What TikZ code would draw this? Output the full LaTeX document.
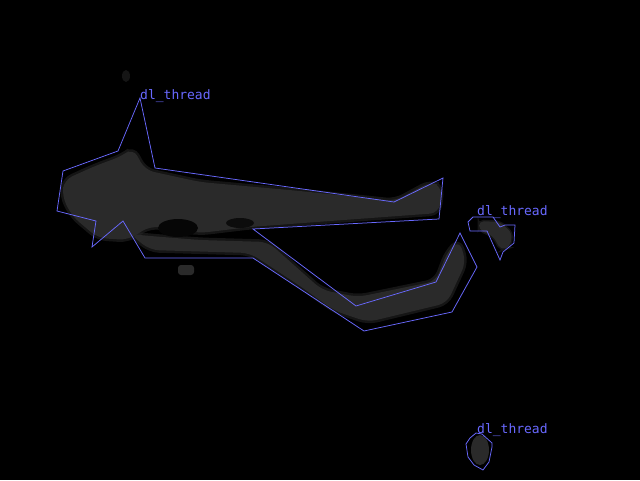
\documentclass[tikz,border=0pt]{standalone}
\usepackage{fontspec}
\newfontfamily\labfont{DejaVu Sans Mono}
\definecolor{polyc}{RGB}{105,105,255}
\definecolor{blobc}{RGB}{42,42,42}
\tikzset{
  poly/.style={draw=polyc, line width=0.75pt, line join=miter},
  blob/.style={fill=blobc, draw=blobc, draw opacity=0.5, line width=5pt, rounded corners=9pt},
  lab/.style={anchor=base west, inner sep=0pt, text=polyc, font=\labfont\fontsize{13}{13}\selectfont}
}
\begin{document}
\begin{tikzpicture}[x=1pt,y=-1pt]
\useasboundingbox (0,0) rectangle (640,480);
\fill[black] (0,0) rectangle (640,480);
% gray blobs
\path[blob] (64,180) -- (95,166) -- (122,156) -- (133,148) -- (145,170) -- (200,182) -- (300,191) -- (395,201) -- (430,182) -- (442,186) -- (439,213) -- (330,221) -- (250,227) -- (200,233) -- (150,226) -- (128,240) -- (98,238) -- (72,216) -- (62,196) -- cycle;
\path[blob] (130,234) -- (150,250) -- (250,253) -- (300,286) -- (335,311) -- (368,322) -- (447,303) -- (466,262) -- (459,240) -- (447,252) -- (436,281) -- (358,297) -- (322,290) -- (268,242) -- (200,240) -- (150,236) -- cycle;
\fill[black!85!blobc] (178,228) ellipse (20 and 9);
\fill[black!70!blobc] (240,223) ellipse (14 and 5);
\fill[blobc, rounded corners=3pt] (178,265) rectangle (194,275);
\fill[blobc!50!black] (126,76) ellipse (4 and 6);
\path[blob, rounded corners=5pt, line width=3pt] (479,221) -- (500,222) -- (512,233) -- (510,247) -- (501,250) -- (493,236) -- (479,230) -- cycle;
\fill[blobc] (480,450) ellipse (9 and 15);
% polygons
\draw[poly] (140,98) -- (118,151) -- (63,171) -- (57,211) -- (96,221) -- (92,247) -- (123,221) -- (145,258) -- (253,258) -- (364,331) -- (452,312) -- (477,267) -- (460,233) -- (436,282) -- (356,306) -- (253,229) -- (439,219) -- (443,178) -- (394,202) -- (155,168) -- cycle;
\draw[poly] (473,217) -- (493,217) -- (500,227) -- (505,225) -- (515,225) -- (514,243) -- (503,252) -- (500,260) -- (487,231) -- (470,231) -- (468,222) -- cycle;
\draw[poly] (476,433) -- (482,434) -- (492,443) -- (492,447) -- (489,462) -- (483,470) -- (474,465) -- (468,457) -- (466,444) -- (470,438) -- cycle;
% labels
\node[lab] (l1) at (140,99) {dl\_thread};
\node[lab] (l2) at (477,215) {dl\_thread};
\node[lab] (l3) at (477,433) {dl\_thread};
\end{tikzpicture}
\end{document}
